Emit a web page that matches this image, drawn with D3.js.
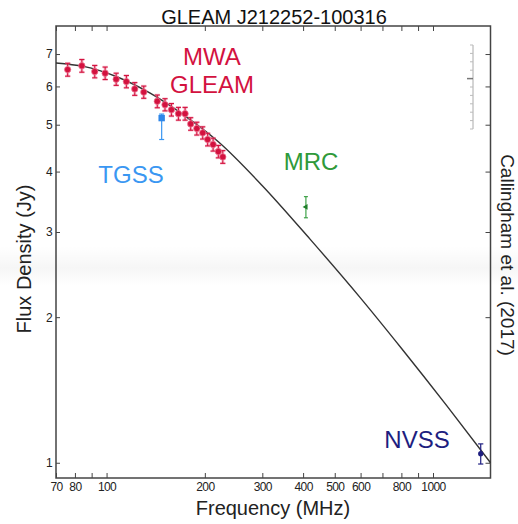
<!DOCTYPE html>
<html>
<head>
<meta charset="utf-8">
<script src="https://cdn.jsdelivr.net/npm/d3@7"></script>
<style>
  html, body { margin: 0; padding: 0; background: #fff; }
  svg { display: block; }
  text { font-family: "Liberation Sans", Arial, sans-serif; }
</style>
</head>
<body>
<svg id="chart" width="518" height="524"></svg>
<script>
// ---- data ----
const gleamFreq = [76, 84, 92, 99, 107, 115, 122, 130, 143, 151, 158, 166, 174, 181, 189, 197, 204, 212, 220, 227];
const gleamFlux = [6.50, 6.62, 6.44, 6.39, 6.21, 6.14, 5.93, 5.84, 5.59, 5.50, 5.37, 5.27, 5.27, 5.02, 4.91, 4.81, 4.66, 4.55, 4.40, 4.29];
const gleamErr  = [0.20, 0.20, 0.19, 0.19, 0.18, 0.18, 0.18, 0.17, 0.17, 0.16, 0.16, 0.16, 0.16, 0.15, 0.15, 0.14, 0.14, 0.14, 0.13, 0.13];

const tgssFreq = [147.5];
const tgssFlux = [5.16];
const tgssErrLo = [0.50];
const tgssErrHi = [0.10];

const mrcFreq = [408];
const mrcFlux = [3.38];
const mrcErr = [0.17];

const nvssFreq = [1400];
const nvssFlux = [1.044];
const nvssErr = [0.05];

// fitted model curve
const modelFreq = [70, 85, 107, 136, 172, 220, 300, 420, 600, 800, 1100, 1500];
const modelFlux = [6.71, 6.60, 6.29, 5.81, 5.24, 4.61, 3.74, 2.90, 2.19, 1.725, 1.314, 1.0];

const xTickValues = [70, 80, 90, 100, 200, 300, 400, 500, 600, 700, 800, 900, 1000];
const xTickLabels = ["70", "80", "", "100", "200", "300", "400", "500", "600", "", "800", "", "1000"];
const yTickValues = [1, 2, 3, 4, 5, 6, 7];
const yTickLabels = ["1", "2", "3", "4", "5", "6", "7"];

const titleText = "GLEAM J212252-100316";
const xLabel = "Frequency (MHz)";
const yLabel = "Flux Density (Jy)";
const refText = "Callingham et al. (2017)";

// ---- layout ----
const svg = d3.select("#chart");
const L = 56, R = 490.5, T = 26, B = 478;
const x = d3.scaleLog().domain([70, 1500]).range([L, R]);
const y = d3.scaleLog().domain([0.93, 8.0]).range([B, T]);

svg.append("rect").attr("width", 518).attr("height", 524).attr("fill", "#fff");

// faint horizontal shading band (scan artefact in reference)
const defs = svg.append("defs");
const g1 = defs.append("linearGradient").attr("id", "band").attr("x1", 0).attr("y1", 0).attr("x2", 0).attr("y2", 1);
g1.append("stop").attr("offset", "0").attr("stop-color", "#000").attr("stop-opacity", 0);
g1.append("stop").attr("offset", "0.55").attr("stop-color", "#000").attr("stop-opacity", 0.035);
g1.append("stop").attr("offset", "1").attr("stop-color", "#000").attr("stop-opacity", 0);
svg.append("rect").attr("x", 0).attr("y", 246).attr("width", 518).attr("height", 40).attr("fill", "url(#band)");

// axes
const xFmt = d => xTickLabels[xTickValues.indexOf(d)];
const yFmt = d => yTickLabels[yTickValues.indexOf(d)];

const gx = svg.append("g").attr("transform", `translate(0,${B})`)
  .call(d3.axisBottom(x).tickValues(xTickValues).tickFormat(xFmt).tickSizeInner(-5).tickSizeOuter(0).tickPadding(4));
const gxt = svg.append("g").attr("transform", `translate(0,${T})`)
  .call(d3.axisTop(x).tickValues(xTickValues).tickFormat("").tickSizeInner(-5).tickSizeOuter(0));
const gy = svg.append("g").attr("transform", `translate(${L},0)`)
  .call(d3.axisLeft(y).tickValues(yTickValues).tickFormat(yFmt).tickSizeInner(-4).tickSizeOuter(0).tickPadding(4));
const gyr = svg.append("g").attr("transform", `translate(${R},0)`)
  .call(d3.axisRight(y).tickValues(yTickValues).tickFormat("").tickSizeInner(-5).tickSizeOuter(0));

[gx, gxt, gy, gyr].forEach(g => {
  g.select(".domain").remove();
  g.selectAll(".tick line").attr("stroke", "#444").attr("stroke-width", 1);
  g.selectAll(".tick text").attr("fill", "#222").attr("font-size", 12)
    .attr("font-family", "'Liberation Sans', Arial, sans-serif").attr("letter-spacing", -0.6);
});

// frame
svg.append("rect").attr("x", L).attr("y", T).attr("width", R - L).attr("height", B - T)
  .attr("fill", "none").attr("stroke", "#444").attr("stroke-width", 1.5);

// small faint ruler artefact top-right
const rs = d3.scaleLinear().domain([0, 10]).range([45, 129]);
const ruler = svg.append("g").attr("stroke", "#aaa").attr("stroke-width", 1);
ruler.append("line").attr("x1", 473).attr("x2", 473).attr("y1", rs(0)).attr("y2", rs(10));
ruler.selectAll("line.rt").data(d3.range(0, 11)).enter().append("line").attr("class", "rt")
  .attr("x1", d => d === 4 ? 467 : 470).attr("x2", 473)
  .attr("y1", d => rs(d)).attr("y2", d => rs(d))
  .attr("stroke", d => d === 4 ? "#777" : "#bbb").attr("stroke-width", d => d === 4 ? 1.5 : 1);

// model curve
const modelData = modelFreq.map((f, i) => [f, modelFlux[i]]);
svg.append("path").datum(modelData)
  .attr("d", d3.line().x(d => x(d[0])).y(d => y(d[1])).curve(d3.curveMonotoneX))
  .attr("fill", "none").attr("stroke", "#333").attr("stroke-width", 1.4);

// helper for error bars
function errBars(freqs, fluxes, lo, hi, color, capW, width, halo) {
  const g = svg.append("g");
  freqs.forEach((f, i) => {
    const cx = x(f), y1 = y(fluxes[i] + hi[i]), y2 = y(fluxes[i] - lo[i]);
    if (halo) {
      g.append("line").attr("x1", cx).attr("x2", cx).attr("y1", y1).attr("y2", y2)
        .attr("stroke", halo).attr("stroke-width", 3.2).attr("stroke-opacity", 0.45);
      [y1, y2].forEach(yy => g.append("line").attr("x1", cx - capW).attr("x2", cx + capW).attr("y1", yy).attr("y2", yy)
        .attr("stroke", halo).attr("stroke-width", 2.6).attr("stroke-opacity", 0.45));
    }
    g.append("line").attr("x1", cx).attr("x2", cx).attr("y1", y1).attr("y2", y2)
      .attr("stroke", color).attr("stroke-width", width);
    [y1, y2].forEach(yy => g.append("line").attr("x1", cx - capW).attr("x2", cx + capW).attr("y1", yy).attr("y2", yy)
      .attr("stroke", color).attr("stroke-width", width));
  });
  return g;
}

// GLEAM
const crimson = "#d3123f";
errBars(gleamFreq, gleamFlux, gleamErr, gleamErr, crimson, 2.6, 1.1, "#f08aa3");
svg.append("g").selectAll("circle").data(gleamFreq).enter().append("circle")
  .attr("cx", d => x(d)).attr("cy", (d, i) => y(gleamFlux[i])).attr("r", 3.2)
  .attr("fill", crimson).attr("stroke", "#f07d98").attr("stroke-width", 1).attr("stroke-opacity", 0.7);

// TGSS
const tgssCol = "#3a97f2";
errBars(tgssFreq, tgssFlux, tgssErrLo, tgssErrHi, tgssCol, 2.5, 1.2, null);
svg.append("g").selectAll("rect").data(tgssFreq).enter().append("rect")
  .attr("x", d => x(d) - 3.2).attr("y", (d, i) => y(tgssFlux[i]) - 3.2)
  .attr("width", 6.4).attr("height", 6.4).attr("fill", "#2e86e8");

// MRC
const mrcCol = "#2f9a3a";
errBars(mrcFreq, mrcFlux, mrcErr, mrcErr, mrcCol, 2, 1.1, null);
svg.append("g").selectAll("path").data(mrcFreq).enter().append("path")
  .attr("d", d3.symbol().type(d3.symbolTriangle).size(14))
  .attr("transform", (d, i) => `translate(${x(d)},${y(mrcFlux[i])}) rotate(-90)`)
  .attr("fill", "#1f7f2a");

// NVSS
const nvssCol = "#1e1e80";
errBars(nvssFreq, nvssFlux, nvssErr, nvssErr, nvssCol, 2.6, 1.2, null);
svg.append("g").selectAll("circle").data(nvssFreq).enter().append("circle")
  .attr("cx", d => x(d)).attr("cy", (d, i) => y(nvssFlux[i])).attr("r", 2.6).attr("fill", nvssCol);

// annotations
function label(t, cx, by, col, size) {
  svg.append("text").attr("x", cx).attr("y", by).attr("text-anchor", "middle")
    .attr("font-size", size).attr("fill", col).text(t);
}
label("MWA", 212, 65, crimson, 24);
label("GLEAM", 212, 93, crimson, 24);
label("TGSS", 131, 183, tgssCol, 24);
label("MRC", 311, 170, mrcCol, 24);
label("NVSS", 417, 448, nvssCol, 24);

// title and axis labels
svg.append("text").attr("x", 274).attr("y", 24).attr("text-anchor", "middle")
  .attr("font-size", 20).attr("fill", "#111").text(titleText);
svg.append("text").attr("x", 273).attr("y", 515).attr("text-anchor", "middle")
  .attr("font-size", 20).attr("fill", "#222").text(xLabel);
svg.append("text").attr("transform", "translate(31,259) rotate(-90)").attr("text-anchor", "middle")
  .attr("font-size", 20).attr("fill", "#222").text(yLabel);
svg.append("text").attr("transform", "translate(501,255) rotate(90)").attr("text-anchor", "middle")
  .attr("font-size", 19).attr("fill", "#222").text(refText);
</script>
</body>
</html>
